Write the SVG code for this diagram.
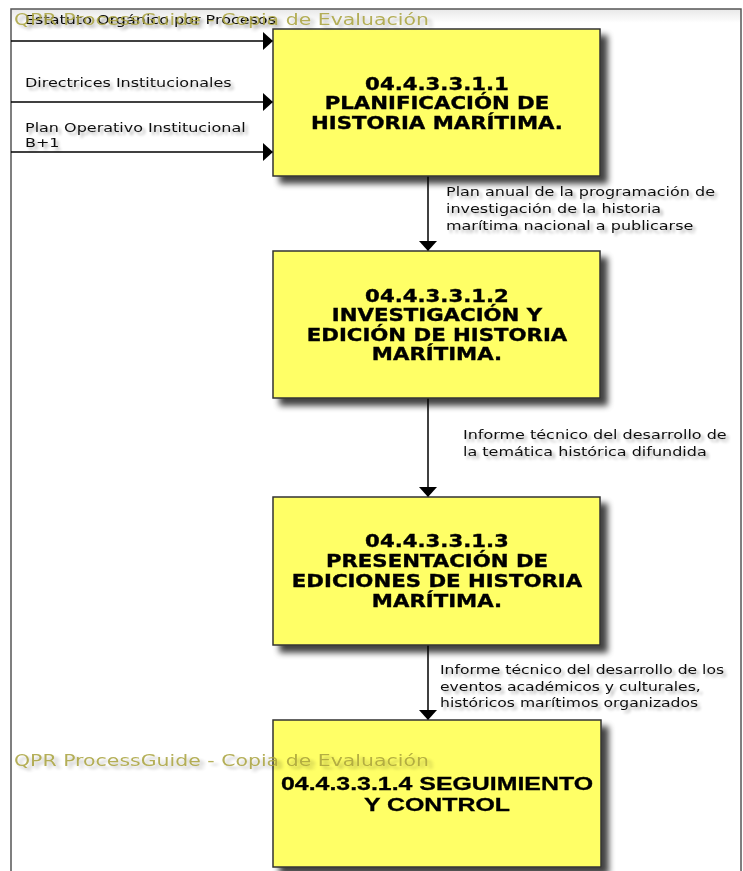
<svg xmlns="http://www.w3.org/2000/svg" width="743" height="871" viewBox="0 0 743 871">
  <defs>
    <filter id="boxShadow" x="-10%" y="-10%" width="130%" height="130%">
      <feGaussianBlur in="SourceAlpha" stdDeviation="3"/>
      <feOffset dx="7" dy="7" result="b"/>
      <feComponentTransfer><feFuncA type="linear" slope="0.75"/></feComponentTransfer>
      <feMerge><feMergeNode/><feMergeNode in="SourceGraphic"/></feMerge>
    </filter>
    <filter id="textShadow" x="-5%" y="-30%" width="115%" height="180%">
      <feGaussianBlur in="SourceAlpha" stdDeviation="1.6"/>
      <feOffset dx="3" dy="3"/>
      <feComponentTransfer><feFuncA type="linear" slope="0.3"/></feComponentTransfer>
      <feMerge><feMergeNode/><feMergeNode in="SourceGraphic"/></feMerge>
    </filter>
    <linearGradient id="topFade" x1="0" y1="0" x2="0" y2="1">
      <stop offset="0" stop-color="#e8e8e8"/>
      <stop offset="1" stop-color="#ffffff"/>
    </linearGradient>
    <!-- one arrowhead, turned along each connector -->
    <marker id="arrow" viewBox="0 0 10 18" markerWidth="10" markerHeight="18" refX="10" refY="9" orient="auto" markerUnits="userSpaceOnUse">
      <path d="M0,0 L10,9 L0,18 Z" fill="#000"/>
    </marker>
  </defs>
  <style>
    .box { fill: #ffff66; stroke: #333333; stroke-width: 1.5; }
    .title { font-family: "DejaVu Sans", Verdana, sans-serif; font-weight: bold; font-size: 17px; fill: #000; stroke: #000; stroke-width: 0.35; text-anchor: middle; }
    .title4 { font-family: "Liberation Sans", Arial, sans-serif; font-weight: bold; font-size: 19px; fill: #000; stroke: #000; stroke-width: 0.3; text-anchor: middle; }
    .label { font-family: "DejaVu Sans", Verdana, sans-serif; font-size: 13px; fill: #111; }
    .flow { stroke: #000; stroke-width: 1.5; fill: none; }
    .mark { font-family: "DejaVu Sans", Verdana, sans-serif; font-size: 16.5px; fill: #a8a23c; opacity: 0.85; }
  </style>

  <!-- frame -->
  <rect x="0" y="0" width="743" height="871" fill="#ffffff"/>
  <rect x="11" y="9" width="730" height="14" fill="url(#topFade)"/>
  <rect x="11" y="9" width="730" height="880" fill="none" stroke="#555" stroke-width="1.5"/>

  <!-- connectors -->
  <g id="connectors">
    <line class="flow" x1="11" y1="41" x2="273" y2="41" marker-end="url(#arrow)"/>
    <line class="flow" x1="11" y1="102" x2="273" y2="102" marker-end="url(#arrow)"/>
    <line class="flow" x1="11" y1="152" x2="273" y2="152" marker-end="url(#arrow)"/>
    <line class="flow" x1="428" y1="176" x2="428" y2="251" marker-end="url(#arrow)"/>
    <line class="flow" x1="428" y1="398" x2="428" y2="497" marker-end="url(#arrow)"/>
    <line class="flow" x1="428" y1="645" x2="428" y2="720" marker-end="url(#arrow)"/>
  </g>

  <!-- connector labels (wide-set type) -->
  <g id="labels" filter="url(#textShadow)">
    <g transform="translate(25,0) scale(1.23,1)">
      <text class="label" x="0" y="24">Estatuto Orgánico por Procesos</text>
      <text class="label" x="0" y="87">Directrices Institucionales</text>
      <text class="label" x="0" y="132">Plan Operativo Institucional</text>
      <text class="label" x="0" y="147">B+1</text>
    </g>
    <g transform="translate(446,0) scale(1.23,1)">
      <text class="label" x="0" y="196">Plan anual de la programación de</text>
      <text class="label" x="0" y="213">investigación de la historia</text>
      <text class="label" x="0" y="230">marítima nacional a publicarse</text>
    </g>
    <g transform="translate(463,0) scale(1.23,1)">
      <text class="label" x="0" y="439">Informe técnico del desarrollo de</text>
      <text class="label" x="0" y="456">la temática histórica difundida</text>
    </g>
    <g transform="translate(440,0) scale(1.2,1)">
      <text class="label" x="0" y="674">Informe técnico del desarrollo  de los</text>
      <text class="label" x="0" y="691">eventos académicos y culturales,</text>
      <text class="label" x="0" y="707">históricos marítimos organizados</text>
    </g>
  </g>

  <g id="node1">
    <rect class="box" x="273" y="29" width="327" height="147" filter="url(#boxShadow)"/>
    <g transform="translate(437,0) scale(1.25,1)">
      <text class="title" x="0" y="90">04.4.3.3.1.1</text>
      <text class="title" x="0" y="109">PLANIFICACIÓN DE</text>
      <text class="title" x="0" y="129">HISTORIA MARÍTIMA.</text>
    </g>
  </g>

  <g id="node2">
    <rect class="box" x="273" y="251" width="327" height="147" filter="url(#boxShadow)"/>
    <g transform="translate(437,0) scale(1.25,1)">
      <text class="title" x="0" y="302">04.4.3.3.1.2</text>
      <text class="title" x="0" y="321">INVESTIGACIÓN Y</text>
      <text class="title" x="0" y="341">EDICIÓN DE HISTORIA</text>
      <text class="title" x="0" y="360">MARÍTIMA.</text>
    </g>
  </g>

  <g id="node3">
    <rect class="box" x="273" y="497" width="327" height="148" filter="url(#boxShadow)"/>
    <g transform="translate(437,0) scale(1.25,1)">
      <text class="title" x="0" y="547">04.4.3.3.1.3</text>
      <text class="title" x="0" y="567">PRESENTACIÓN DE</text>
      <text class="title" x="0" y="587">EDICIONES DE HISTORIA</text>
      <text class="title" x="0" y="607">MARÍTIMA.</text>
    </g>
  </g>

  <g id="node4">
    <rect class="box" x="273" y="720" width="328" height="147" filter="url(#boxShadow)"/>
    <g transform="translate(437,0) scale(1.31,1)">
      <text class="title4" x="0" y="790">04.4.3.3.1.4 SEGUIMIENTO</text>
      <text class="title4" x="0" y="811">Y CONTROL</text>
    </g>
  </g>

  <!-- watermark -->
  <g id="watermark" filter="url(#textShadow)" transform="translate(14,0) scale(1.24,1)">
    <text class="mark" x="0" y="25">QPR ProcessGuide - Copia de Evaluación</text>
    <text class="mark" x="0" y="766">QPR ProcessGuide - Copia de Evaluación</text>
  </g>
</svg>
